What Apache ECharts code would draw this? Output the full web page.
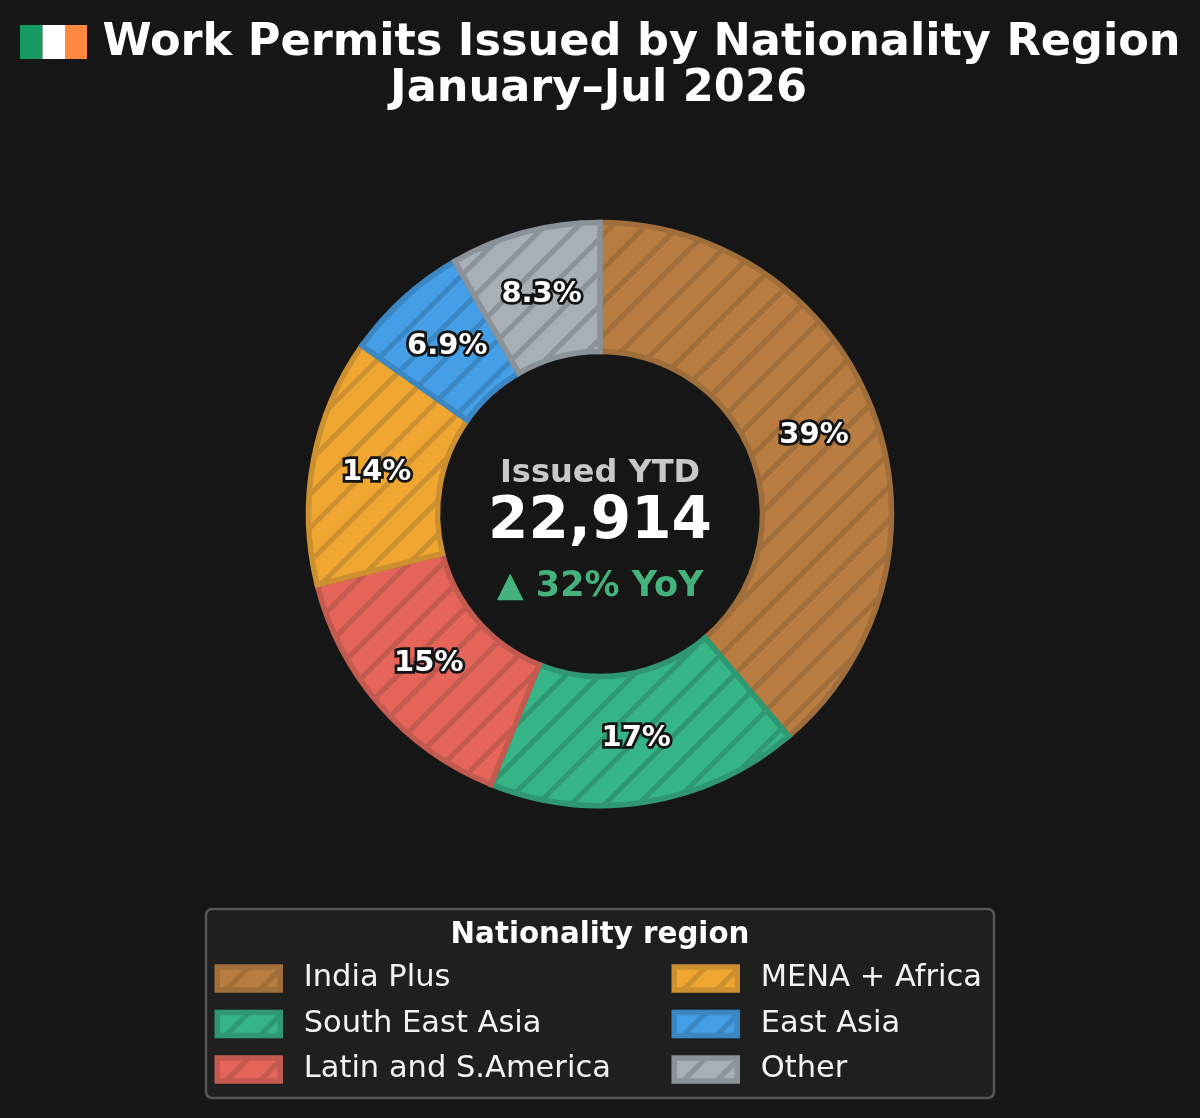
<!DOCTYPE html>
<html><head><meta charset="utf-8">
<style>html,body{margin:0;padding:0;background:#161616}#c{width:1200px;height:1118px}</style>
<script src="https://cdn.jsdelivr.net/npm/echarts@6/dist/echarts.min.js"></script>
</head><body><div id="c"></div>
<script>
const regions = ['India Plus','South East Asia','Latin and S.America','MENA + Africa','East Asia','Other'];
const permits = [8890,3964,3437,3139,1581,1903];
const fills = ['#b97d42','#36b587','#e5655a','#f0a732','#459fe6','#a7afb7'];
const edges = ['#9f6e3b','#2f9872','#c25a50','#cc9030','#3b87c4','#8b9299'];
const titleLine1 = 'Work Permits Issued by Nationality Region';
const titleLine2 = 'January–Jul 2026';
const centerCaption = 'Issued YTD';
const centerValue = '22,914';
const centerDelta = '▲ 32% YoY';
const legendTitle = 'Nationality region';
const flagColors = ['#169b62','#ffffff','#ff883e'];

const FONT = '"DejaVu Sans", sans-serif';
function hatch(fill, line){
  const S=168, P=33.6, C=31.6;
  const cv=document.createElement('canvas'); cv.width=S; cv.height=S;
  const g=cv.getContext('2d');
  g.fillStyle=fill; g.fillRect(0,0,S,S);
  g.strokeStyle=line; g.lineWidth=5;
  for(let k=-2;k<14;k++){
    const s=C+k*P;
    g.beginPath(); g.moveTo(s+10,-10); g.lineTo(s-S-10,S+10); g.stroke();
  }
  return cv;
}
const data = regions.map((n,i)=>({
  name:n, value:permits[i],
  itemStyle:{color:{image:hatch(fills[i],edges[i]),repeat:'repeat'},borderColor:edges[i],borderWidth:5.5,borderJoin:'miter'}
}));
const total = permits.reduce((a,b)=>a+b,0);
function pctLabel(p){
  const v=p.value/total*100;
  return v>=10 ? Math.round(v)+'%' : v.toFixed(1)+'%';
}
function txt(x,y,t,size,color,weight){
  return {type:'text',x,y,z:20,silent:true,style:{text:t,x:0,y:0,align:'center',verticalAlign:'middle',
    font:(weight||'bold')+' '+size+'px '+FONT,fill:color}};
}
const legendBase={orient:'vertical',icon:'rect',itemWidth:63,itemHeight:23,itemGap:14.5,selectedMode:false,
  itemStyle:{borderWidth:5.5,borderJoin:'miter'},
  textStyle:{color:'#f2f2f2',fontSize:30.5,fontFamily:'DejaVu Sans',padding:[0,0,0,18.5]},
  padding:0,top:963,z:5};
const chart=echarts.init(document.getElementById('c'),null,{renderer:'canvas',width:1200,height:1118});
chart.setOption({
  animation:false,
  backgroundColor:'#161616',
  legend:[
    Object.assign({},legendBase,{left:214.5,data:regions.slice(0,3)}),
    Object.assign({},legendBase,{left:671.5,data:regions.slice(3)})
  ],
  series:[{
    type:'pie',center:[600,514],radius:[162.5,291.5],startAngle:90,clockwise:true,
    data,silent:true,
    emphasis:{disabled:true},
    labelLine:{show:false},
    labelLayout:function(p){
      const cx=p.rect.x+p.rect.width/2, cy=p.rect.y+p.rect.height/2;
      return {dx:(600-cx)*0.013,dy:(514-cy)*0.013};
    },
    label:{show:true,position:'inside',formatter:pctLabel,color:'#ffffff',
      fontFamily:'DejaVu Sans',fontWeight:'bold',fontSize:29,
      textBorderColor:'#141414',textBorderWidth:5.5}
  }],
  graphic:[
    {type:'rect',z:1,silent:true,shape:{x:206,y:909,width:788,height:189,r:6},
      style:{fill:'#1f1f1f',stroke:'#555555',lineWidth:2.5}},
    {type:'rect',z:10,silent:true,shape:{x:20,y:25,width:22.5,height:34},style:{fill:flagColors[0]}},
    {type:'rect',z:10,silent:true,shape:{x:42.5,y:25,width:22.5,height:34},style:{fill:flagColors[1]}},
    {type:'rect',z:10,silent:true,shape:{x:65,y:25,width:22,height:34},style:{fill:flagColors[2]}},
    txt(641.5,43,titleLine1,44.6,'#ffffff'),
    txt(598.5,89,titleLine2,44.6,'#ffffff'),
    txt(600,474,centerCaption,32,'#c8c8c8'),
    txt(600,523,centerValue,58,'#ffffff'),
    txt(600,587,centerDelta,35,'#45b27d'),
    txt(600,935,legendTitle,29.3,'#ffffff')
  ]
});
</script></body></html>
